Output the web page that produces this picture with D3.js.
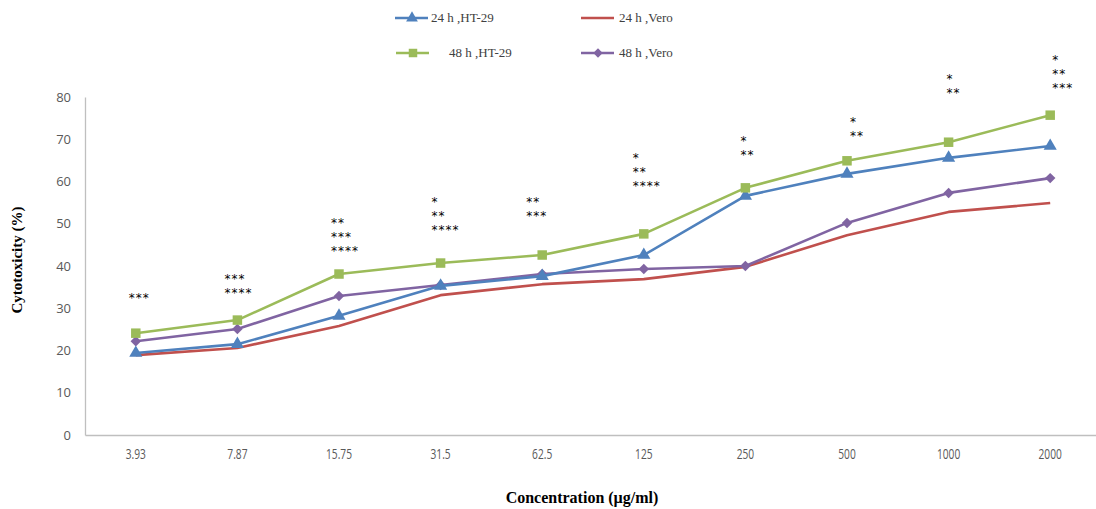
<!DOCTYPE html>
<html><head><meta charset="utf-8">
<script src="https://cdn.jsdelivr.net/npm/d3@7"></script>
<style>body{margin:0;background:#fff}svg{display:block}</style>
</head><body>
<svg id="c" width="1096" height="509"></svg>
<script>
const categories = ["3.93","7.87","15.75","31.5","62.5","125","250","500","1000","2000"];
const ht29_24h = [19.4,21.5,28.2,35.3,37.6,42.6,56.6,61.8,65.6,68.4];
const vero_24h = [18.9,20.6,25.8,33.1,35.7,36.9,39.8,47.3,52.8,54.9];
const ht29_48h = [24.1,27.2,38.1,40.7,42.6,47.6,58.5,64.9,69.3,75.7];
const vero_48h = [22.2,25.1,32.9,35.5,38.1,39.3,40.0,50.2,57.3,60.8];
const yTicks = [0,10,20,30,40,50,60,70,80];
const annotations = [["***"],["***","****"],["**","***","****"],["*","**","****"],["**","***"],["*","**","****"],["*","**"],["*","**"],["*","**"],["*","**","***"]];
const annotationTop = [32.7,37.2,50.4,55.4,55.4,65.8,69.8,74.3,84.5,89.0];
const annotationDx = [-7,-13,-8,-9,-16,-11,-5,3,-2,2];

const svg = d3.select("#c");
const x = d3.scaleBand().domain(categories).range([85,1101]);
const y = d3.scaleLinear().domain([0,80]).range([435,97]);
const cx = c => x(c) + x.bandwidth()/2;

// axes
const gy = svg.append("g").attr("transform","translate(85,0)")
  .call(d3.axisLeft(y).tickValues(yTicks).tickSize(0).tickPadding(14));
gy.select(".domain").attr("stroke","#bfbfbf").attr("stroke-width",1.3);
gy.selectAll("text").attr("fill","#595959").style("font-family","Open Sans, sans-serif").style("font-size","13px");
const gx = svg.append("g").attr("transform","translate(0,435)")
  .call(d3.axisBottom(x).tickSize(0).tickPadding(13));
gx.select(".domain").attr("stroke","#bfbfbf").attr("stroke-width",1.3);
gx.selectAll("text").attr("fill","#595959").style("font-family","Open Sans, sans-serif").style("font-size","15px")
  .each(function(){ const w=this.getComputedTextLength(); d3.select(this).attr("textLength",w*0.68).attr("lengthAdjust","spacingAndGlyphs"); });

// titles
svg.append("text").attr("transform","translate(22,260) rotate(-90)").attr("text-anchor","middle")
  .style("font-family","Liberation Serif, serif").style("font-weight","bold").style("font-size","15px").attr("fill","#000").text("Cytotoxicity (%)");
svg.append("text").attr("x",582).attr("y",503).attr("text-anchor","middle")
  .style("font-family","Liberation Serif, serif").style("font-weight","bold").style("font-size","16px").attr("fill","#000").text("Concentration (µg/ml)");

const diamond = {draw(ctx,size){const r=Math.sqrt(size/2); ctx.moveTo(0,-r); ctx.lineTo(r,0); ctx.lineTo(0,r); ctx.lineTo(-r,0); ctx.closePath();}};
const series = [
  {name:"24 h ,HT-29", vals:ht29_24h, color:"#4F81BD", sym:d3.symbolTriangle, size:75},
  {name:"24 h ,Vero", vals:vero_24h, color:"#C0504D", sym:null},
  {name:"48 h ,HT-29", vals:ht29_48h, color:"#9BBB59", sym:d3.symbolSquare, size:90},
  {name:"48 h ,Vero", vals:vero_48h, color:"#8064A2", sym:diamond, size:55}
];
const drawOrder = [1,3,0,2];
const line = d3.line().x((d,i)=>cx(categories[i])).y(d=>y(d));
drawOrder.forEach(k=>{
  const s = series[k];
  svg.append("path").datum(s.vals).attr("d",line).attr("fill","none")
    .attr("stroke",s.color).attr("stroke-width",2.6).attr("stroke-linejoin","round");
  if (s.sym) {
    svg.selectAll(null).data(s.vals).enter().append("path")
      .attr("d",d3.symbol().type(s.sym).size(s.size))
      .attr("transform",(d,i)=>`translate(${cx(categories[i])},${y(d)})`)
      .attr("fill",s.color);
  }
});

// annotations
annotations.forEach((lines,i)=>{
  const ax = cx(categories[i])+annotationDx[i];
  const t = svg.append("text").attr("x",ax).attr("y",y(annotationTop[i])+5)
    .style("font-family","DejaVu Sans, sans-serif").style("font-size","12px").style("letter-spacing","1px").attr("fill","#000");
  lines.forEach((l,j)=>t.append("tspan").attr("x",ax).attr("dy", j===0?0:14).text(l));
});

// legend
const legPos = [[395,18,431],[581,18,619],[396,53,449],[581,53,619]];
series.forEach((s,k)=>{
  const [lx,ly,tx] = legPos[k];
  svg.append("line").attr("x1",lx).attr("x2",lx+33).attr("y1",ly).attr("y2",ly).attr("stroke",s.color).attr("stroke-width",2.6);
  if (s.sym) svg.append("path").attr("d",d3.symbol().type(s.sym).size(s.size*0.8)).attr("transform",`translate(${lx+17},${ly})`).attr("fill",s.color);
  svg.append("text").attr("x",tx).attr("y",ly+4).style("font-family","Liberation Serif, serif").style("font-size","13px").attr("fill","#404040").text(s.name);
});
</script>
</body></html>
